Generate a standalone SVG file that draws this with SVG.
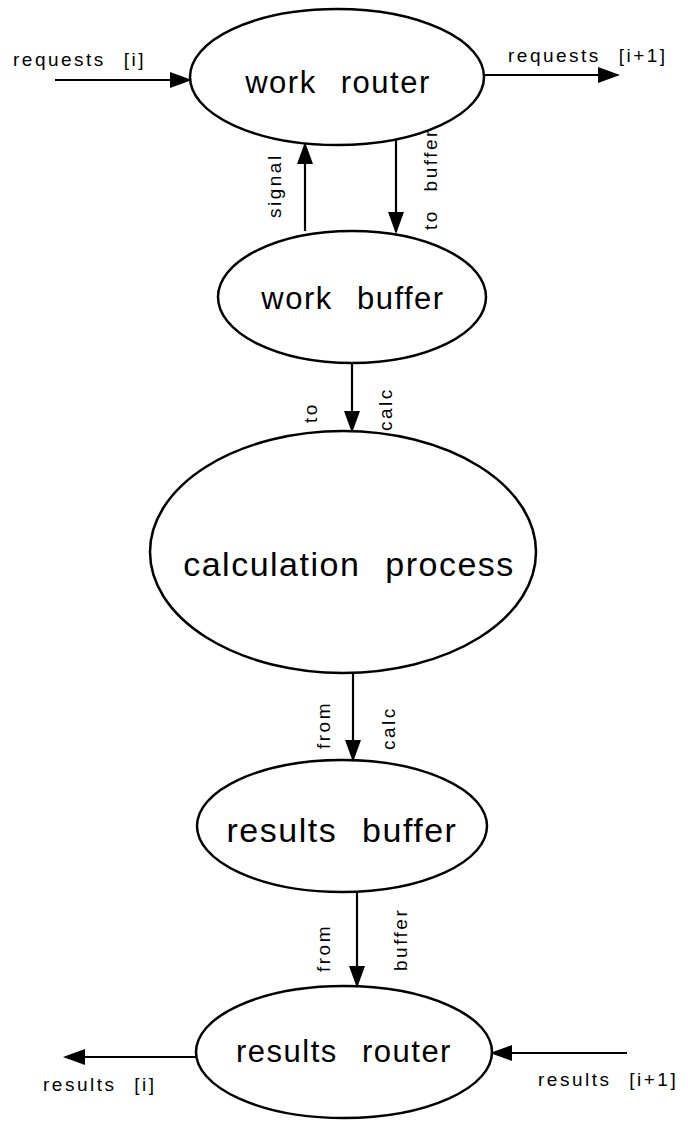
<svg xmlns="http://www.w3.org/2000/svg" width="688" height="1123" viewBox="0 0 688 1123">
<style>
.node{fill:#fff;stroke:#000;stroke-width:2.5}
.nt{font-family:"Liberation Sans",Arial,sans-serif;fill:#000;text-anchor:middle;letter-spacing:1.5px;word-spacing:14px}
.lb{font-family:"Liberation Sans",Arial,sans-serif;fill:#000;font-size:19px;letter-spacing:2.5px;word-spacing:10px}
.edge{stroke:#000;stroke-width:2.2;fill:none;marker-end:url(#ah)}
</style>
<defs>
<marker id="ah" markerWidth="22" markerHeight="16" refX="20" refY="8" orient="auto" markerUnits="userSpaceOnUse">
<path d="M0,0 L22,8 L0,16 Z" fill="#000"/>
</marker>
</defs>
<rect width="688" height="1123" fill="#fff"/>
<g id="work-router">
<ellipse class="node" cx="337" cy="77" rx="147" ry="68"/>
<text class="nt" x="338" y="93" font-size="31">work router</text>
</g>
<g id="work-buffer">
<ellipse class="node" cx="352" cy="297" rx="134" ry="66"/>
<text class="nt" x="353" y="309" font-size="31">work buffer</text>
</g>
<g id="calculation-process">
<ellipse class="node" cx="343" cy="552" rx="193" ry="121"/>
<text class="nt" x="349" y="576" font-size="34">calculation process</text>
</g>
<g id="results-buffer">
<ellipse class="node" cx="342" cy="826" rx="145" ry="66"/>
<text class="nt" x="342" y="842" font-size="34">results buffer</text>
</g>
<g id="results-router">
<ellipse class="node" cx="344" cy="1052" rx="148" ry="66"/>
<text class="nt" x="344" y="1062" font-size="31">results router</text>
</g>
<g id="connectors">
<line class="edge" x1="55" y1="80" x2="190" y2="80"/>
<line class="edge" x1="484" y1="75" x2="618" y2="75"/>
<line class="edge" x1="305" y1="231" x2="305" y2="144"/>
<line class="edge" x1="396" y1="140" x2="396" y2="232"/>
<line class="edge" x1="352" y1="363" x2="352" y2="431"/>
<line class="edge" x1="353" y1="673" x2="353" y2="760"/>
<line class="edge" x1="357" y1="893" x2="357" y2="986"/>
<line class="edge" x1="197" y1="1057" x2="65" y2="1057"/>
<line class="edge" x1="627" y1="1053" x2="492" y2="1053"/>
<text class="lb" x="13" y="66">requests [i]</text>
<text class="lb" x="508" y="62">requests [i+1]</text>
<text class="lb" transform="translate(281,218) rotate(-90)">signal</text>
<text class="lb" transform="translate(437,230) rotate(-90)">to buffer</text>
<text class="lb" transform="translate(317,423) rotate(-90)">to</text>
<text class="lb" transform="translate(392,431) rotate(-90)">calc</text>
<text class="lb" transform="translate(330,749) rotate(-90)">from</text>
<text class="lb" transform="translate(395,750) rotate(-90)">calc</text>
<text class="lb" transform="translate(330,972) rotate(-90)">from</text>
<text class="lb" transform="translate(407,971) rotate(-90)">buffer</text>
<text class="lb" x="43" y="1091">results [i]</text>
<text class="lb" x="538" y="1086">results [i+1]</text>
</g>
</svg>
